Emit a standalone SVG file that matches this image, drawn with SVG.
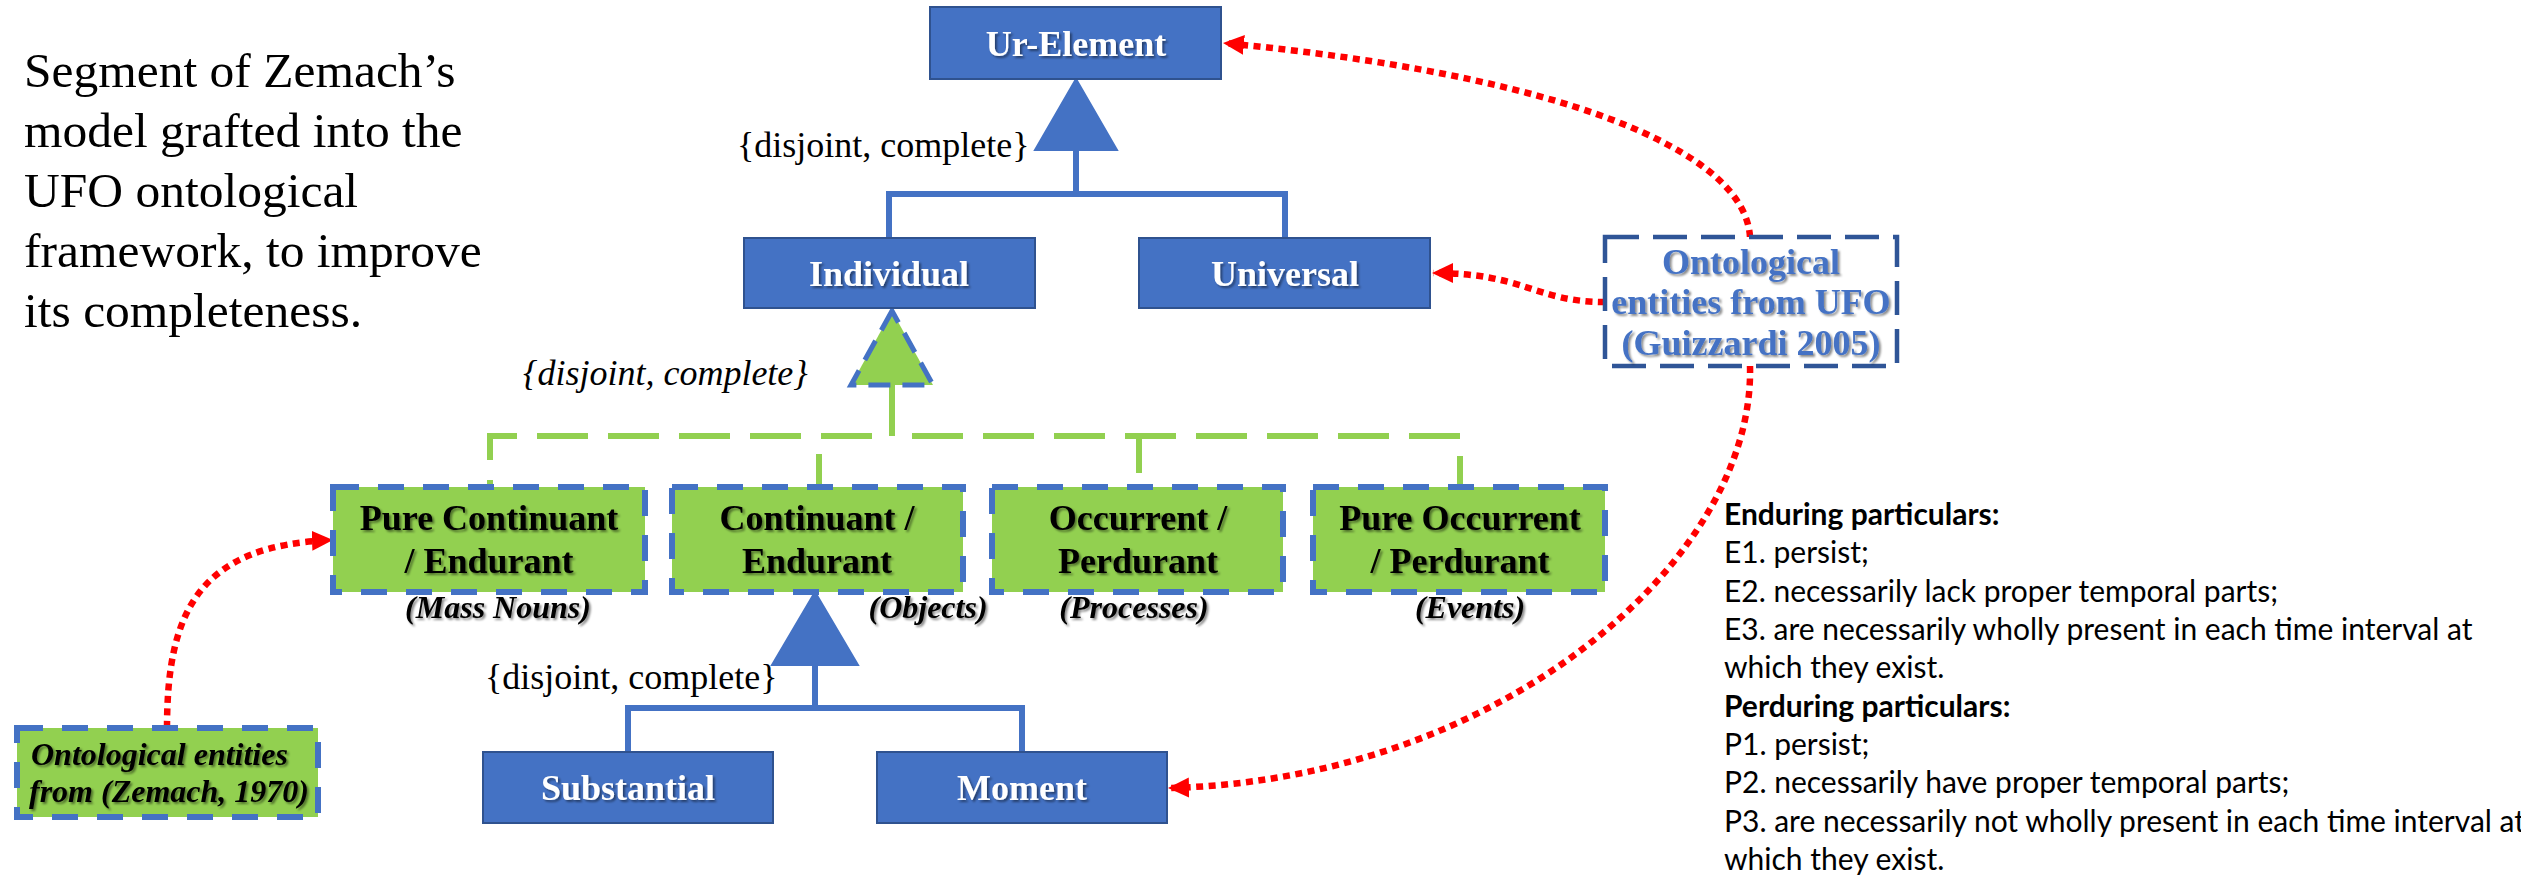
<svg xmlns="http://www.w3.org/2000/svg" width="2521" height="878" viewBox="0 0 2521 878">
<style>
.bx{fill:#4472C4;stroke:#2F528F;stroke-width:2}
.gb{fill:#92D050;stroke:#4472C4;stroke-width:6;stroke-dasharray:26 19}
.ufo{fill:#fff;stroke:#2F5597;stroke-width:4.5;stroke-dasharray:34 14}
.lbl{font-family:"Liberation Serif",serif;font-weight:bold;font-size:36px;fill:#fff;text-anchor:middle;filter:url(#sh)}
.glbl{font-family:"Liberation Serif",serif;font-weight:bold;font-size:36px;fill:#000;text-anchor:middle;filter:url(#sh)}
.it{font-family:"Liberation Serif",serif;font-weight:bold;font-style:italic;font-size:32px;fill:#000;text-anchor:middle;filter:url(#sh)}
.dc{font-family:"Liberation Serif",serif;font-size:36px;fill:#000}
.gen{fill:none;stroke:#4472C4;stroke-width:6}
.gcon{fill:none;stroke:#92D050;stroke-width:6;stroke-dasharray:51 20}
.red{fill:none;stroke:#FF0000;stroke-width:6.5;stroke-dasharray:7 5.5;marker-end:url(#ah)}
.rt{font-family:Lato,"Liberation Sans",sans-serif;font-size:30px;fill:#000}
</style>
<defs>
<filter id="sh" x="-10%" y="-30%" width="130%" height="170%">
<feDropShadow dx="2" dy="2" stdDeviation="1.3" flood-color="#000" flood-opacity="0.45"/>
</filter>
<marker id="ah" markerUnits="userSpaceOnUse" markerWidth="22" markerHeight="22" viewBox="0 0 22 22" refX="20" refY="11" orient="auto">
<path d="M0,1 L21,11 L0,21 z" fill="#FF0000"/>
</marker>
</defs>
<rect width="2521" height="878" fill="#fff"/>

<g id="title" font-family="'Liberation Serif',serif" font-size="49.5" fill="#000">
<text x="24" y="87">Segment of Zemach’s</text>
<text x="24" y="147">model grafted into the</text>
<text x="24" y="207">UFO ontological</text>
<text x="24" y="267">framework, to improve</text>
<text x="24" y="327">its completeness.</text>
</g>

<g id="connectors">
<path class="gen" d="M1076,150 V194 M889,238 V194 H1285 V238"/>
<path class="gen" d="M815,665 V708 M628,752 V708 H1022 V752"/>
<path class="gcon" d="M892,385 V436 H490 V487"/>
<path class="gcon" d="M892,385 V436 H819 V487"/>
<path class="gcon" d="M892,385 V436 H1139 V487"/>
<path class="gcon" d="M892,385 V436 H1460 V487"/>
<path class="red" d="M1750,237 C1745,150 1560,75 1224,43"/>
<path class="red" d="M1605,302 C1535,302 1525,273 1433,273"/>
<path class="red" d="M1750,366 C1755,560 1500,780 1169,788"/>
<path class="red" d="M167,728 C167,610 200,545 332,540"/>
</g>

<g id="gen-ur">
<polygon points="1076,79 1035,150 1117,150" fill="#4472C4" stroke="#4472C4" stroke-width="2"/>
<text class="dc" x="737" y="157">{disjoint, complete}</text>
</g>
<g id="gen-individual">
<polygon points="892,311 851,385 933,385" fill="#92D050" stroke="#4472C4" stroke-width="5" stroke-dasharray="22 12"/>
<text class="dc" x="523" y="385" font-style="italic" font-size="37">{disjoint, complete}</text>
</g>
<g id="gen-continuant">
<polygon points="815,592 772,665 858,665" fill="#4472C4" stroke="#4472C4" stroke-width="2"/>
<text class="dc" x="485" y="689">{disjoint, complete}</text>
</g>

<g id="ur-element">
<rect class="bx" x="930" y="7" width="291" height="72"/>
<text class="lbl" x="1076" y="56">Ur-Element</text>
</g>
<g id="individual">
<rect class="bx" x="744" y="238" width="291" height="70"/>
<text class="lbl" x="889" y="286">Individual</text>
</g>
<g id="universal">
<rect class="bx" x="1139" y="238" width="291" height="70"/>
<text class="lbl" x="1285" y="286">Universal</text>
</g>
<g id="substantial">
<rect class="bx" x="483" y="752" width="290" height="71"/>
<text class="lbl" x="628" y="800">Substantial</text>
</g>
<g id="moment">
<rect class="bx" x="877" y="752" width="290" height="71"/>
<text class="lbl" x="1022" y="800">Moment</text>
</g>

<g id="pure-continuant">
<rect class="gb" x="333" y="487" width="312" height="105"/>
<text class="glbl" x="489" y="530">Pure Continuant</text>
<text class="glbl" x="489" y="573">/ Endurant</text>
<text class="it" x="498" y="618">(Mass Nouns)</text>
</g>
<g id="continuant">
<rect class="gb" x="672" y="487" width="291" height="105"/>
<text class="glbl" x="817" y="530">Continuant /</text>
<text class="glbl" x="817" y="573">Endurant</text>
<text class="it" x="928" y="618">(Objects)</text>
</g>
<g id="occurrent">
<rect class="gb" x="992" y="487" width="291" height="105"/>
<text class="glbl" x="1138" y="530">Occurrent /</text>
<text class="glbl" x="1138" y="573">Perdurant</text>
<text class="it" x="1134" y="618">(Processes)</text>
</g>
<g id="pure-occurrent">
<rect class="gb" x="1313" y="487" width="292" height="105"/>
<text class="glbl" x="1460" y="530">Pure Occurrent</text>
<text class="glbl" x="1460" y="573">/ Perdurant</text>
<text class="it" x="1470" y="618">(Events)</text>
</g>

<g id="ufo-entities">
<rect class="ufo" x="1605" y="237" width="292" height="129"/>
<text class="lbl" x="1751" y="274" font-size="33" style="fill:#4472C4">Ontological</text>
<text class="lbl" x="1751" y="314" font-size="33" style="fill:#4472C4">entities from UFO</text>
<text class="lbl" x="1751" y="355" font-size="33" style="fill:#4472C4">(Guizzardi 2005)</text>
</g>

<g id="zemach-entities">
<rect class="gb" x="17" y="728" width="301" height="89"/>
<text class="it" x="31" y="765" font-size="29" text-anchor="start" style="text-anchor:start">Ontological entities</text>
<text class="it" x="29" y="802" font-size="29" style="text-anchor:start">from (Zemach, 1970)</text>
</g>

<g id="particulars-text">
<text class="rt" x="1724" y="525" font-weight="bold">Enduring particulars:</text>
<text class="rt" x="1724" y="563">E1. persist;</text>
<text class="rt" x="1724" y="602">E2. necessarily lack proper temporal parts;</text>
<text class="rt" x="1724" y="640">E3. are necessarily wholly present in each time interval at</text>
<text class="rt" x="1724" y="678">which they exist.</text>
<text class="rt" x="1724" y="717" font-weight="bold">Perduring particulars:</text>
<text class="rt" x="1724" y="755">P1. persist;</text>
<text class="rt" x="1724" y="793">P2. necessarily have proper temporal parts;</text>
<text class="rt" x="1724" y="832">P3. are necessarily not wholly present in each time interval at</text>
<text class="rt" x="1724" y="870">which they exist.</text>
</g>
</svg>
